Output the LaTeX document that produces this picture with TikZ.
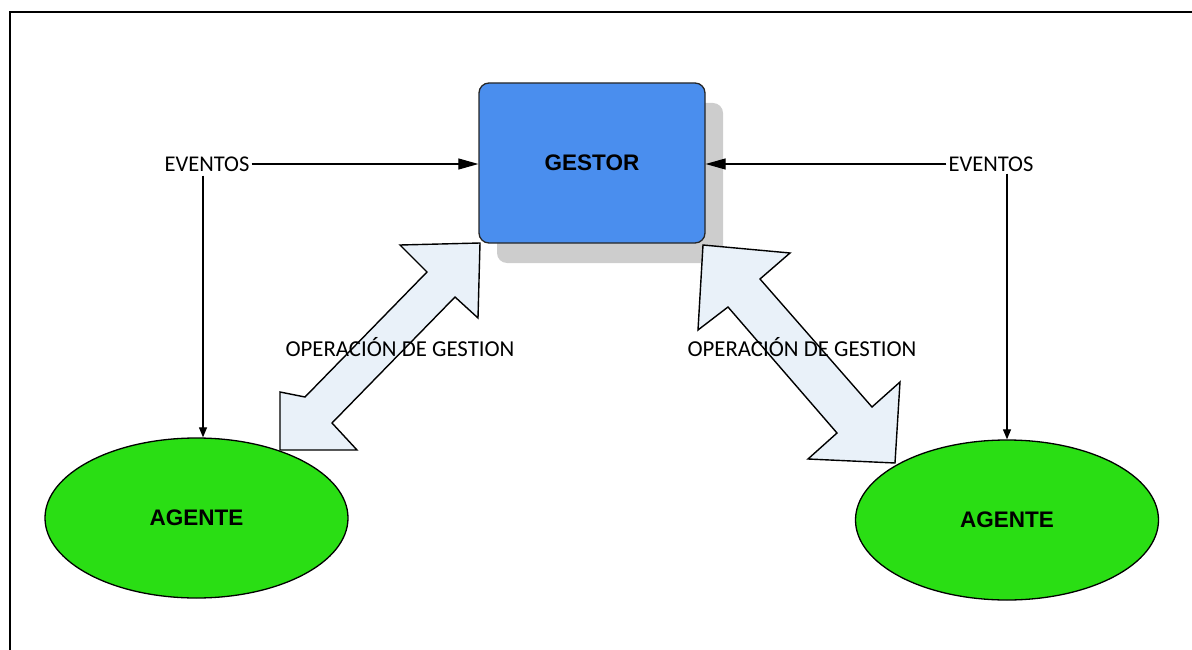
\documentclass[tikz,border=0pt]{standalone}
\usepackage{fontspec}
\setmainfont{Carlito}
\newfontfamily\headfont{Liberation Sans}
\usetikzlibrary{arrows.meta,shapes.geometric,shadows,calc}

\definecolor{gestorblue}{HTML}{4A8EEE}
\definecolor{agentgreen}{HTML}{2ADE14}
\definecolor{blockfill}{HTML}{E9F1F9}
\definecolor{shadowgray}{HTML}{CDCDCD}

\tikzset{
  gestorbox/.style={draw=black!85, line width=1.3pt, fill=gestorblue,
    rounded corners=10pt, minimum width=226pt, minimum height=160pt,
    font=\headfont\bfseries\fontsize{22.5}{26}\selectfont,
    drop shadow={shadow xshift=18pt, shadow yshift=-20pt,
      fill=shadowgray, opacity=1}},
  agentoval/.style={draw=black, line width=1.3pt, fill=agentgreen,
    ellipse, minimum width=303pt, minimum height=160pt, inner sep=0pt,
    font=\headfont\bfseries\fontsize{22.5}{26}\selectfont},
  evtext/.style={inner sep=2pt, font=\fontsize{22.5}{26}\selectfont},
  optext/.style={inner sep=1pt, font=\fontsize{22.8}{26}\selectfont},
  evarrow/.style={line width=1.2pt,
    -{Triangle[length=20pt,width=11pt]}},
  downarrow/.style={line width=1.2pt,
    -{Triangle[length=10pt,width=8pt]}},
  blockarrow/.style={draw=black, line width=1.4pt, fill=blockfill,
    line join=miter},
}

\begin{document}
\begin{tikzpicture}[x=1pt,y=-1pt]
  \useasboundingbox (0,0) rectangle (1192,650);

  % outer frame, open at right and bottom
  \draw[line width=2pt] (10,650) -- (10,12) -- (1192,12);

  % manager and agents
  \node[gestorbox] (gestor) at (592,163) {GESTOR};
  \node[agentoval] (agL) at (196.5,518) {AGENTE};
  \node[agentoval] (agR) at (1007,520) {AGENTE};

  % double block arrows for management operations
  \draw[blockarrow] (480,243) -- (400,245) -- (427,272) -- (305,397)
    -- (280,392) -- (280,450) -- (357,450) -- (332,423) -- (455,297)
    -- (478,318) -- cycle;
  \draw[blockarrow] (703,245) -- (790,253) -- (760,279) -- (872,407)
    -- (900,382) -- (895,463) -- (808,459) -- (837,433) -- (728,307)
    -- (698,330) -- cycle;

  \node[optext] (opL) at (400,347) {OPERACIÓN DE GESTION};
  \node[optext] (opR) at (802,347) {OPERACIÓN DE GESTION};

  % event sources
  \node[evtext] (evL) at (207,164) {EVENTOS};
  \node[evtext] (evR) at (991,164) {EVENTOS};

  \draw[evarrow] (evL.east) -- (evL.east -| gestor.west);
  \draw[evarrow] (evR.west) -- (evR.west -| gestor.east);

  \coordinate (dL) at ($(evL.south)+(-4,2)$);
  \coordinate (dR) at (evR.south -| agR.north);
  \draw[downarrow] (dL) -- (dL |- agL.north);
  \draw[downarrow] (dR) -- (agR.north);
\end{tikzpicture}
\end{document}
